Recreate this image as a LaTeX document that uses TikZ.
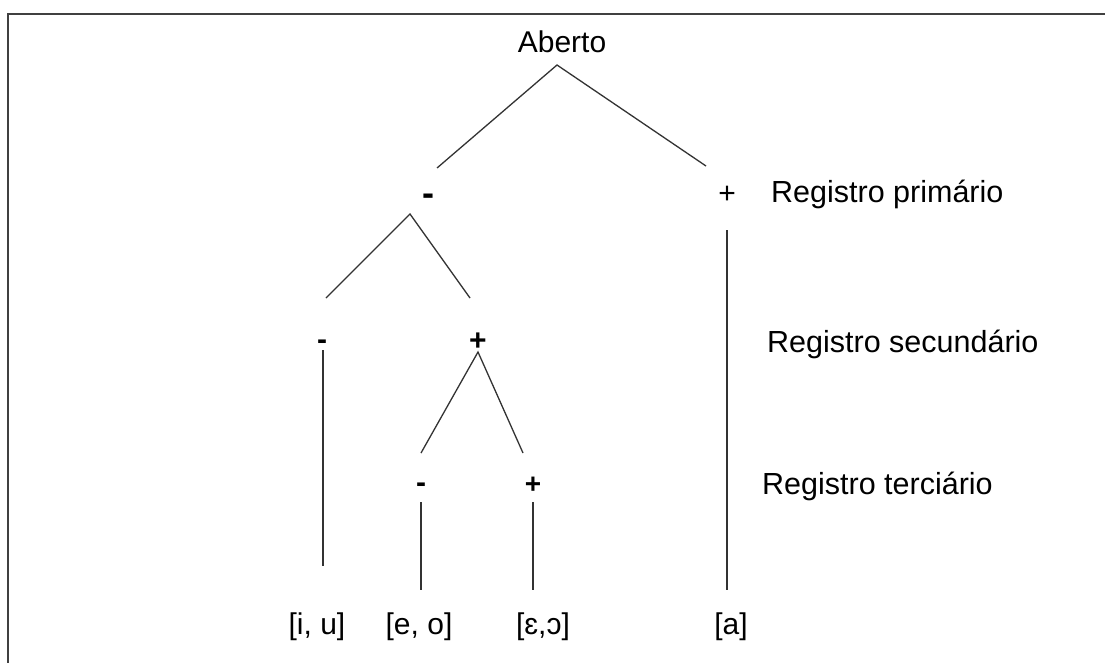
\documentclass[tikz,border=0pt]{standalone}
\usepackage{fontspec}
\setmainfont{Liberation Sans}
\begin{document}
\begin{tikzpicture}[x=1pt,y=-1pt,
  lbl/.style={font=\fontsize{30}{34}\selectfont, inner sep=0pt, anchor=center},
  sign/.style={font=\fontsize{30}{34}\selectfont, inner sep=0pt, anchor=center},
  reg/.style={font=\fontsize{30.5}{34}\selectfont, inner sep=0pt, anchor=west},
  branch/.style={line width=1.3pt, draw=black!80}]
\useasboundingbox (0,0) rectangle (1105,662);
\clip (0,0) rectangle (1105,662);
\fill[white] (0,0) rectangle (1105,662);
% outer frame, running past the right and bottom edges
\draw[line width=2pt, draw=black!75] (8,13.5) rectangle (1130,690);

% root
\node[lbl] (root) at (562,42) {Aberto};

% primary level
\node[sign, font=\fontsize{36}{36}\selectfont\bfseries] (pminus) at (428,200) {-};
\node[sign] (pplus) at (727,195) {+};
\node[reg] (regp) at (771,194) {Registro primário};

% secondary level
\node[sign, font=\fontsize{30}{34}\selectfont\bfseries] (sminus) at (322,345) {-};
\node[sign, font=\fontsize{30}{34}\selectfont\bfseries] (splus) at (478,342) {+};
\node[reg] (regs) at (767,344) {Registro secundário};

% tertiary level
\node[sign, font=\fontsize{30}{34}\selectfont\bfseries] (tminus) at (421,488) {-};
\node[sign, font=\fontsize{28}{34}\selectfont\bfseries] (tplus) at (533,485) {+};
\node[reg] (regt) at (762,486) {Registro terciário};

% leaves
\node[lbl] (iu) at (317,627) {[i, u]};
\node[lbl] (eo) at (419,627) {[e, o]};
\node[lbl] (ec) at (543,627) {[ɛ,ɔ]};
\node[lbl] (a) at (731,627) {[a]};

% branch end points
\coordinate (rootfoot) at (557,65);
\coordinate (rootl) at (437,168);
\coordinate (rootr) at (706,166);
\coordinate (pmfoot) at (410,214);
\coordinate (pml) at (326,298);
\coordinate (pmr) at (470,298);
\coordinate (spfoot) at (478,352);
\coordinate (spl) at (421,453);
\coordinate (spr) at (523,453);
\coordinate (smtop) at (323,350);
\coordinate (smbot) at (323,566);
\coordinate (tmtop) at (421,502);
\coordinate (tmbot) at (421,590);
\coordinate (tptop) at (533,502);
\coordinate (tpbot) at (533,590);
\coordinate (pptop) at (727,230);
\coordinate (ppbot) at (727,590);

\draw[branch] (rootl) -- (rootfoot) -- (rootr);
\draw[branch] (pml) -- (pmfoot) -- (pmr);
\draw[branch] (spl) -- (spfoot) -- (spr);
\draw[branch] (smtop) -- (smbot);
\draw[branch] (tmtop) -- (tmbot);
\draw[branch] (tptop) -- (tpbot);
\draw[branch] (pptop) -- (ppbot);
\end{tikzpicture}
\end{document}
